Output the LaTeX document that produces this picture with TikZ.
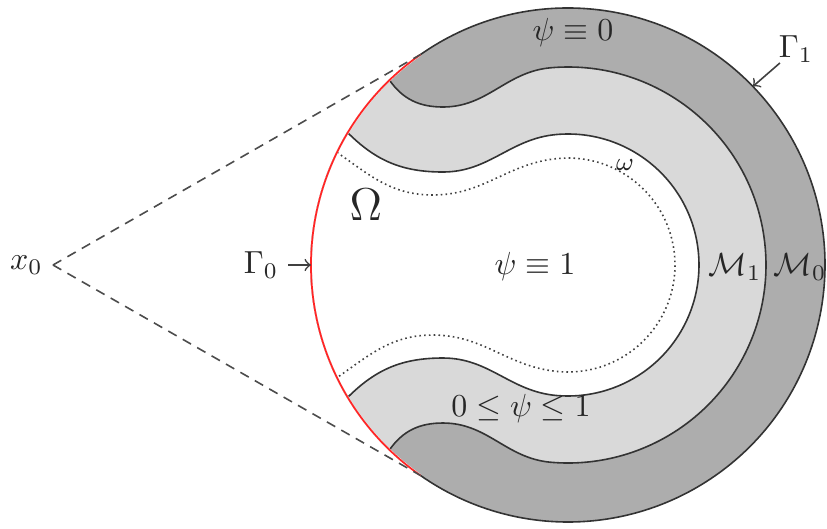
\documentclass[tikz,border=0pt]{standalone}
\usepackage{amsmath,amssymb}
\usetikzlibrary{positioning}

\begin{document}
\begin{tikzpicture}[x=0.011cm, y=0.011cm,
          outer/.style={fill=gray!64},
          midband/.style={fill=gray!30, draw=black!80, line width=0.5pt},
          innerband/.style={fill=white, draw=black!80, line width=0.5pt},
          lbl/.style={text=black!85, inner sep=1pt},
          arr/.style={->, line width=0.5pt, black!75},
          cone/.style={dash pattern=on 3pt off 2.2pt, line width=0.5pt, black!70}
        ]
        \useasboundingbox (-568,-263) rectangle (259,265);
        \coordinate (x0) at (-515,0);
        \coordinate (t1) at (125:257);
        \coordinate (t2) at (235:257);
        \coordinate (g0) at (180:257);
        \coordinate (g1) at (44:257);
        \fill[outer] (0,0) circle (257);
        \filldraw[midband] (134:257) to[out=-55,in=180] (-125,158) to[out=0,in=185] (95:198)
            arc[start angle=95, end angle=-95, radius=198]
            to[out=175,in=0] (-125,-158) to[out=180,in=55] (226:257)
            arc[start angle=226, end angle=134, radius=257] -- cycle;
        \filldraw[innerband] (149:257) to[out=-45,in=180] (-125,93) to[out=0,in=185] (95:131)
            arc[start angle=95, end angle=-95, radius=131]
            to[out=175,in=0] (-125,-93) to[out=180,in=45] (211:257)
            arc[start angle=211, end angle=149, radius=257] -- cycle;
        \draw[densely dotted, line width=0.5pt, black!75] (154:257) to[out=-35,in=180] (-135,70)
            to[out=0,in=185] (95:107) arc[start angle=95, end angle=-95, radius=107]
            to[out=175,in=0] (-135,-70) to[out=180,in=35] (206:257);
        \draw[black!80, line width=0.5pt] (t1) arc[start angle=125, end angle=-125, radius=257];
        \draw[white, line width=0.7pt] (t1) arc[start angle=125, end angle=235, radius=257];
        \draw[red!85, line width=0.55pt] (t1) arc[start angle=125, end angle=235, radius=257];
        \draw[cone] (x0) -- (t1);
        \draw[cone] (x0) -- (t2);
        \node[lbl] (psizero) at (5,232) {$\psi \equiv 0$};
        \node[lbl] (psione) at (-33,-2) {$\psi \equiv 1$};
        \node[lbl] (psimid) at (-47,-143) {$0 \leq \psi \leq 1$};
        \node[lbl, font=\Large] (bigomega) at (-202,60) {$\Omega$};
        \node[lbl, font=\footnotesize] (smallomega) at (57,100) {$\omega$};
        \node[lbl] (mone) at (167,-2) {$\mathcal{M}_1$};
        \node[lbl] (mzero) at (232,-2) {$\mathcal{M}_0$};
        \node[lbl] (gzero) at (-307,0) {$\Gamma_0$};
        \node[lbl, inner sep=0pt] (gone) at (228,216) {$\Gamma_1$};
        \node[lbl, left=2pt of x0] (xlab) {$x_0$};
        \draw[arr, shorten <=2pt] (gzero) -- (g0);
        \draw[arr] (gone) -- (g1);
      \end{tikzpicture}
\end{document}
